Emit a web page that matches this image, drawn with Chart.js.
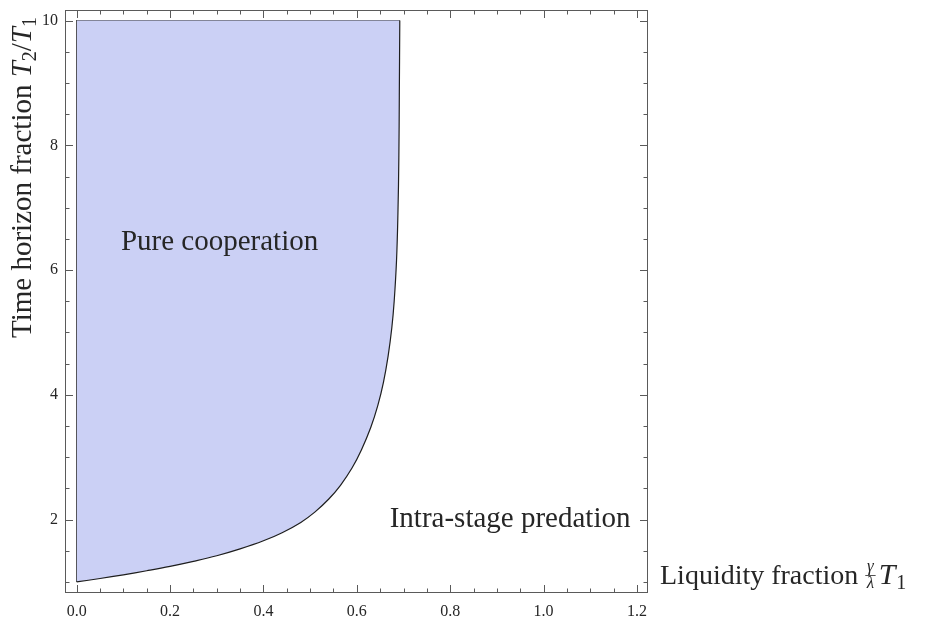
<!DOCTYPE html>
<html>
<head>
<meta charset="utf-8">
<script src="https://cdn.jsdelivr.net/npm/chart.js@4/dist/chart.umd.min.js"></script>
<style>
  html, body { margin: 0; padding: 0; background: #ffffff; }
  #wrap { width: 926px; height: 623px; }
</style>
</head>
<body>
<div id="wrap"><canvas id="chart" width="926" height="623"></canvas></div>
<script>
// Boundary between the two regimes: liquidity fraction (x) against time horizon fraction (y)
const boundaryX = [0, 0.05, 0.10, 0.15, 0.20, 0.25, 0.30, 0.35, 0.40, 0.44, 0.48, 0.51, 0.54, 0.565, 0.59, 0.61, 0.63, 0.645, 0.657, 0.667, 0.675, 0.68, 0.685, 0.688, 0.690, 0.691, 0.692];
const boundaryY = [1.0, 1.055, 1.115, 1.18, 1.25, 1.33, 1.42, 1.53, 1.66, 1.79, 1.955, 2.12, 2.33, 2.55, 2.83, 3.12, 3.48, 3.83, 4.2, 4.62, 5.08, 5.5, 6.15, 6.9, 7.8, 8.8, 10.0];
const regionTop = 10;

// Axis ticks
const xMajorTicks = [0, 0.2, 0.4, 0.6, 0.8, 1.0, 1.2];
const xMinorTicks = [0.05, 0.1, 0.15, 0.25, 0.3, 0.35, 0.45, 0.5, 0.55, 0.65, 0.7, 0.75, 0.85, 0.9, 0.95, 1.05, 1.1, 1.15];
const yMajorTicks = [2, 4, 6, 8, 10];
const yMinorTicks = [1, 1.5, 2.5, 3, 3.5, 4.5, 5, 5.5, 6.5, 7, 7.5, 8.5, 9, 9.5];

// Region names
const regionNames = ['Pure cooperation', 'Intra-stage predation'];
const regionNameAnchors = [
  { x: 0.306, y: 6.45, align: 'center' },
  { x: 1.186, y: 2.0, align: 'right' }
];

const SERIF = '"Liberation Serif", "Times New Roman", serif';
const TEXT = '#262626';
const FRAME = '#5a5a5a';

const framePlugin = {
  id: 'frameTicks',
  afterDatasetsDraw(chart) {
    const { ctx, chartArea: a, scales: { x, y } } = chart;
    ctx.save();
    // frame
    ctx.strokeStyle = FRAME;
    ctx.lineWidth = 1;
    ctx.strokeRect(a.left + 0.5, a.top + 0.5, a.right - a.left - 1, a.bottom - a.top - 1);
    // inward ticks on all four sides
    const tick = (x1, y1, x2, y2) => { ctx.beginPath(); ctx.moveTo(x1, y1); ctx.lineTo(x2, y2); ctx.stroke(); };
    const xt = (vals, len) => vals.forEach(v => {
      const px = Math.round(x.getPixelForValue(v)) + 0.5;
      tick(px, a.bottom, px, a.bottom - len);
      tick(px, a.top, px, a.top + len);
    });
    const yt = (vals, len) => vals.forEach(v => {
      const py = Math.round(y.getPixelForValue(v)) + 0.5;
      tick(a.left, py, a.left + len, py);
      tick(a.right, py, a.right - len, py);
    });
    xt(xMajorTicks, 8); xt(xMinorTicks, 4.5);
    yt(yMajorTicks, 8); yt(yMinorTicks, 4.5);

    // region names
    ctx.fillStyle = TEXT;
    ctx.font = '29px ' + SERIF;
    ctx.textBaseline = 'middle';
    regionNames.forEach((name, i) => {
      const p = regionNameAnchors[i];
      ctx.textAlign = p.align;
      ctx.fillText(name, x.getPixelForValue(p.x), y.getPixelForValue(p.y));
    });

    // x-axis title, to the right of the axis: Liquidity fraction (γ/λ) T1
    ctx.textBaseline = 'alphabetic';
    ctx.textAlign = 'left';
    let cx = a.right + 12;
    const base = a.bottom - 9;
    ctx.font = '28px ' + SERIF;
    const lead = 'Liquidity fraction ';
    ctx.fillText(lead, cx, base);
    cx += ctx.measureText(lead).width;
    ctx.font = 'italic 17px ' + SERIF;
    const fw = Math.max(ctx.measureText('γ').width, ctx.measureText('λ').width) + 3;
    const bar = base - 9;
    ctx.textAlign = 'center';
    ctx.fillText('γ', cx + fw / 2, bar - 4);
    ctx.fillText('λ', cx + fw / 2, bar + 13);
    ctx.strokeStyle = TEXT;
    ctx.lineWidth = 0.8;
    tick(cx, bar + 0.5, cx + fw, bar + 0.5);
    cx += fw + 3;
    ctx.textAlign = 'left';
    ctx.font = 'italic 30px ' + SERIF;
    ctx.fillText('T', cx, base);
    cx += ctx.measureText('T').width + 1;
    ctx.font = '20px ' + SERIF;
    ctx.fillText('1', cx, base + 5);

    // y-axis title, rotated: Time horizon fraction T2/T1
    ctx.save();
    ctx.translate(31, a.top + 328);
    ctx.rotate(-Math.PI / 2);
    let ty = 0;
    const seg = (txt, font, dy) => { ctx.font = font; ctx.fillText(txt, ty, dy); ty += ctx.measureText(txt).width; };
    seg('Time horizon fraction ', '29px ' + SERIF, 0);
    seg('T', 'italic 29px ' + SERIF, 0);
    seg('2', '20px ' + SERIF, 5);
    seg('/', '29px ' + SERIF, 0);
    seg('T', 'italic 29px ' + SERIF, 0);
    seg('1', '20px ' + SERIF, 5);
    ctx.restore();

    ctx.restore();
  }
};

const boundary = boundaryX.map((v, i) => ({ x: v, y: boundaryY[i] }));
const outline = [
  { x: boundaryX[boundaryX.length - 1], y: regionTop },
  { x: boundaryX[0], y: regionTop },
  { x: boundaryX[0], y: boundaryY[0] }
];

new Chart(document.getElementById('chart'), {
  type: 'line',
  data: {
    datasets: [
      {
        data: boundary,
        fill: { value: regionTop },
        backgroundColor: 'rgb(203,208,245)',
        borderColor: '#1e1e1e',
        borderWidth: 1.2,
        pointRadius: 0,
        tension: 0.4
      },
      {
        data: outline,
        fill: false,
        borderColor: '#3a3a3a',
        borderWidth: 1.2,
        pointRadius: 0,
        tension: 0
      }
    ]
  },
  options: {
    responsive: false,
    devicePixelRatio: 1,
    animation: false,
    layout: { padding: { left: 0, top: 10, right: 278, bottom: 0 } },
    plugins: { legend: { display: false }, tooltip: { enabled: false } },
    scales: {
      x: {
        type: 'linear',
        min: -0.025,
        max: 1.2236,
        afterBuildTicks: s => { s.ticks = xMajorTicks.map(v => ({ value: v })); },
        afterFit: s => { s.height = 30; s.paddingLeft = 0; s.paddingRight = 0; },
        grid: { display: false, drawTicks: false },
        border: { display: false },
        ticks: {
          autoSkip: false, maxRotation: 0, padding: 9, color: TEXT,
          font: { family: SERIF, size: 16 },
          callback: v => Number(v).toFixed(1)
        }
      },
      y: {
        type: 'linear',
        min: 0.823,
        max: 10.17,
        afterBuildTicks: s => { s.ticks = yMajorTicks.map(v => ({ value: v })); },
        afterFit: s => { s.width = 65; s.paddingTop = 0; s.paddingBottom = 0; },
        grid: { display: false, drawTicks: false },
        border: { display: false },
        ticks: {
          autoSkip: false, padding: 7, color: TEXT,
          font: { family: SERIF, size: 16 },
          callback: v => String(v)
        }
      }
    }
  },
  plugins: [framePlugin]
});
</script>
</body>
</html>
